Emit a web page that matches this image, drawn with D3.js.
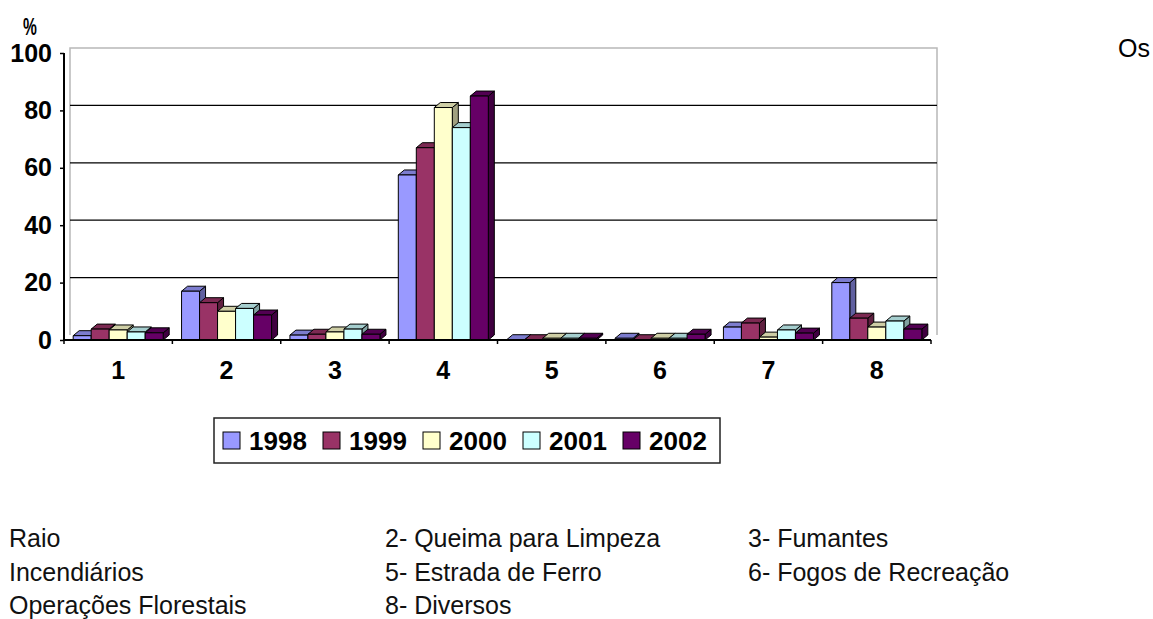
<!DOCTYPE html>
<html>
<head>
<meta charset="utf-8">
<script src="https://cdn.jsdelivr.net/npm/d3@7"></script>
<style>
  body { margin: 0; background: #fff; }
  svg { display: block; font-family: "Liberation Sans", Arial, sans-serif; }
</style>
</head>
<body>
<div class="chart"></div>
<script>
// === Data ===
const categories = ["1", "2", "3", "4", "5", "6", "7", "8"];
const years = ["1998", "1999", "2000", "2001", "2002"];
const v1998 = [1.5, 17, 1.7, 57.5, 0.1, 0.6, 4.5, 20];
const v1999 = [3.8, 13, 2, 67, 0.1, 0.1, 5.9, 7.6];
const v2000 = [3.5, 10, 2.8, 81, 0.6, 0.6, 1, 4.5];
const v2001 = [2.8, 11, 3.8, 74, 0.6, 0.6, 3.5, 6.6];
const v2002 = [2.5, 8.7, 2, 85, 0.6, 2, 2.4, 3.8];
const yTicks = [0, 20, 40, 60, 80, 100];
const causes = [
  ["Raio", "2- Queima para Limpeza", "3- Fumantes"],
  ["Incendiários", "5- Estrada de Ferro", "6- Fogos de Recreação"],
  ["Operações Florestais", "8- Diversos", ""]
];
const series = [v1998, v1999, v2000, v2001, v2002];
const colors = ["#9999ff", "#993366", "#ffffcc", "#ccffff", "#660066"];

// === SVG ===
const W = 1153, H = 619;
const svg = d3.select(".chart").append("svg")
    .attr("width", W)
    .attr("height", H);

// 3D depth offset
const dx = 6, dy = 5;

// === Scales ===
const x0 = d3.scaleBand()
    .domain(categories)
    .range([64, 931]);

const x1 = d3.scaleBand()
    .domain(years)
    .range([0, x0.bandwidth()])
    .paddingOuter(0.51)
    .align(0.5);

const y = d3.scaleLinear()
    .domain([0, 100])
    .range([340, 53]);

const color = d3.scaleOrdinal().domain(years).range(colors);

// === Back wall ===
const wallL = x0.range()[0] + dx, wallR = x0.range()[1] + dx;
svg.append("path")
    .attr("d", `M${wallL},${y(0) - dy}V${y(100) - dy}H${wallR}V${y(0) - dy}`)
    .attr("fill", "none")
    .attr("stroke", "#b8b8b8")
    .attr("stroke-width", 1.5);

// gridlines on the wall
svg.append("g")
  .selectAll("line")
  .data(yTicks.filter(d => d > 0 && d < 100))
  .join("line")
    .attr("x1", wallL)
    .attr("x2", wallR)
    .attr("y1", d => y(d) - dy)
    .attr("y2", d => y(d) - dy)
    .attr("stroke", "#000")
    .attr("stroke-width", 1.3);

// === Bars ===
const bars = [];
categories.forEach((c, i) => {
  years.forEach((yr, j) => {
    bars.push({cat: c, year: yr, value: series[j][i]});
  });
});

const bw = x1.bandwidth();
const barG = svg.append("g").attr("stroke", "#000").attr("stroke-width", 1).attr("stroke-linejoin", "round");
bars.forEach(d => {
  const bx = x0(d.cat) + x1(d.year);
  const by = y(d.value);
  const base = y(0);
  const c = color(d.year);
  const g = barG.append("g");
  // side face
  g.append("path")
    .attr("d", `M${bx + bw},${by}L${bx + bw + dx},${by - dy}L${bx + bw + dx},${base - dy}L${bx + bw},${base}Z`)
    .attr("fill", d3.color(c).darker(1.3));
  // top face
  g.append("path")
    .attr("d", `M${bx},${by}L${bx + dx},${by - dy}L${bx + bw + dx},${by - dy}L${bx + bw},${by}Z`)
    .attr("fill", d3.color(c).darker(0.6));
  // front face
  g.append("rect")
    .attr("x", bx)
    .attr("y", by)
    .attr("width", bw)
    .attr("height", base - by)
    .attr("fill", c);
});

// === Axes ===
const yAxis = d3.axisLeft(y).tickValues(yTicks).tickSize(4).tickPadding(8);
const yAxisG = svg.append("g")
    .attr("transform", "translate(64,0)")
    .call(yAxis);
yAxisG.select(".domain").attr("stroke-width", 2).attr("d", `M0,${y(100)}V${y(0)}`);
yAxisG.selectAll(".tick line").attr("stroke-width", 1.5);
yAxisG.selectAll(".tick text")
    .attr("font-size", 25)
    .attr("font-weight", "bold")
    .attr("font-family", "'Liberation Sans', Arial, sans-serif")
    .attr("fill", "#000");

const xAxisG = svg.append("g").attr("transform", `translate(0,${y(0)})`);
xAxisG.append("line")
    .attr("x1", x0.range()[0]).attr("x2", x0.range()[1])
    .attr("stroke", "#000").attr("stroke-width", 2);
xAxisG.selectAll(".cat-tick")
  .data(categories.map(c => x0(c)).concat([x0.range()[1]]))
  .join("line")
    .attr("class", "cat-tick")
    .attr("x1", d => d).attr("x2", d => d)
    .attr("y1", 0).attr("y2", 4)
    .attr("stroke", "#000").attr("stroke-width", 1.5);
xAxisG.selectAll("text")
  .data(categories)
  .join("text")
    .attr("x", d => x0(d) + x0.bandwidth() / 2)
    .attr("y", 39)
    .attr("text-anchor", "middle")
    .attr("font-size", 25)
    .attr("font-weight", "bold")
    .text(d => d);

// "%" unit label (narrow, tall glyph like the original)
svg.append("text")
    .attr("transform", "translate(30,35) scale(0.65,1)")
    .attr("text-anchor", "middle")
    .attr("font-size", 24)
    .attr("font-weight", "bold")
    .text("%");

// === Legend ===
const legend = svg.append("g");
legend.append("rect")
    .attr("x", 214).attr("y", 418)
    .attr("width", 506).attr("height", 45)
    .attr("fill", "#fff")
    .attr("stroke", "#222")
    .attr("stroke-width", 1.5);

const lx = d3.scaleBand().domain(years).range([223, 723]);
const item = legend.selectAll(".item")
  .data(years)
  .join("g")
    .attr("class", "item")
    .attr("transform", d => `translate(${lx(d)},0)`);
item.append("rect")
    .attr("x", 0).attr("y", 432)
    .attr("width", 17).attr("height", 17)
    .attr("fill", d => color(d))
    .attr("stroke", "#000");
item.append("text")
    .attr("x", 26).attr("y", 450)
    .attr("font-size", 26)
    .attr("font-weight", "bold")
    .text(d => d);

// === Causes list ===
const colX = [9, 385, 748];
const rowY = [547, 581, 614];
causes.forEach((row, r) => {
  row.forEach((t, c) => {
    if (!t) return;
    svg.append("text")
      .attr("x", colX[c])
      .attr("y", rowY[r])
      .attr("font-size", 25)
      .attr("fill", "#111")
      .text(t);
  });
});

svg.append("text")
    .attr("x", 1118)
    .attr("y", 57)
    .attr("font-size", 25)
    .attr("fill", "#000")
    .text("Os");
</script>
</body>
</html>
